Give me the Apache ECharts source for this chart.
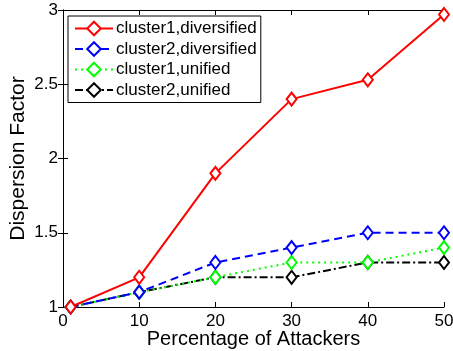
<!DOCTYPE html>
<html><head><meta charset="utf-8">
<script src="https://cdn.jsdelivr.net/npm/echarts@6/dist/echarts.min.js"></script>
<style>html,body{margin:0;padding:0;background:#fff}#c{width:453px;height:351px}</style>
</head><body><div id="c"></div>
<script>
var xValues = [1, 10, 20, 30, 40, 50];
var seriesNames = ['cluster1,diversified', 'cluster2,diversified', 'cluster1,unified', 'cluster2,unified'];
var c1div = [1, 1.2, 1.9, 2.4, 2.53, 2.97];
var c2div = [1, 1.1, 1.3, 1.4, 1.5, 1.5];
var c1uni = [1, 1.1, 1.2, 1.3, 1.3, 1.4];
var c2uni = [1, 1.1, 1.2, 1.2, 1.3, 1.3];
var xTicks = [0, 10, 20, 30, 40, 50];
var yTicks = [1, 1.5, 2, 2.5, 3];

var font = 'Liberation Sans, Arial, Helvetica, sans-serif';
function pairs(ys){ return xValues.map(function(x,i){return [x, ys[i]];}); }
var colors = ['#ff0000', '#0000ff', '#00ff00', '#000000'];
var types = ['solid', [8, 5], [2, 4], [8, 3, 2, 3]];
var data = [c1div, c2div, c1uni, c2uni];
var series = data.map(function(d, i){
  return {
    name: seriesNames[i], type: 'line', data: pairs(d),
    symbol: 'emptyDiamond', symbolSize: [10, 13], showAllSymbol: true,
    lineStyle: {color: colors[i], width: 2, type: types[i]},
    itemStyle: {color: colors[i], borderColor: colors[i], borderWidth: 2},
    z: 10 - i, animation: false
  };
});
var chart = echarts.init(document.getElementById('c'));
function axisCommon(){
  return {
    axisLine: {show: true, lineStyle: {color: '#000', width: 1}},
    axisTick: {show: true, inside: true, length: 5, lineStyle: {color: '#000'}},
    splitLine: {show: false}
  };
}
var xa = Object.assign(axisCommon(), {
  type: 'value', min: 0, max: 50, interval: 10, position: 'bottom',
  axisLabel: {color: '#000', fontSize: 17, fontFamily: font, margin: 6,
    formatter: function(v){ return xTicks.indexOf(v) >= 0 ? String(v) : ''; }},
  name: 'Percentage of Attackers', nameLocation: 'middle', nameGap: 22, nameMoveOverlap: false,
  nameTextStyle: {color: '#000', fontSize: 20, fontFamily: font}
});
var xa2 = Object.assign(axisCommon(), {type: 'value', min: 0, max: 50, interval: 10, position: 'top', axisLabel: {show: false}});
var ya = Object.assign(axisCommon(), {
  type: 'value', min: 1, max: 3, interval: 0.5, position: 'left',
  axisLabel: {color: '#000', fontSize: 17, fontFamily: font, margin: 5,
    formatter: function(v){ return yTicks.indexOf(v) >= 0 ? String(v) : ''; }},
  name: 'Dispersion Factor', nameLocation: 'middle', nameGap: 34, nameMoveOverlap: false,
  nameTextStyle: {color: '#000', fontSize: 21, fontFamily: font}
});
var ya2 = Object.assign(axisCommon(), {type: 'value', min: 1, max: 3, interval: 0.5, position: 'right', axisLabel: {show: false}});
chart.setOption({
  animation: false,
  grid: {left: 63, right: 9, top: 10, bottom: 44, containLabel: false, outerBoundsMode: 'none'},
  xAxis: [xa, xa2],
  yAxis: [ya, ya2],
  legend: {
    orient: 'vertical', left: 68, top: 16, data: seriesNames,
    backgroundColor: '#fff', borderColor: '#000', borderWidth: 1, borderRadius: 0,
    padding: [4, 4, 4, 6], itemGap: 3.5, itemWidth: 38, itemHeight: 17,
    textStyle: {color: '#000', fontSize: 17, fontFamily: font, padding: [0, 0, 0, -2]}
  },
  series: series
});
</script></body></html>
